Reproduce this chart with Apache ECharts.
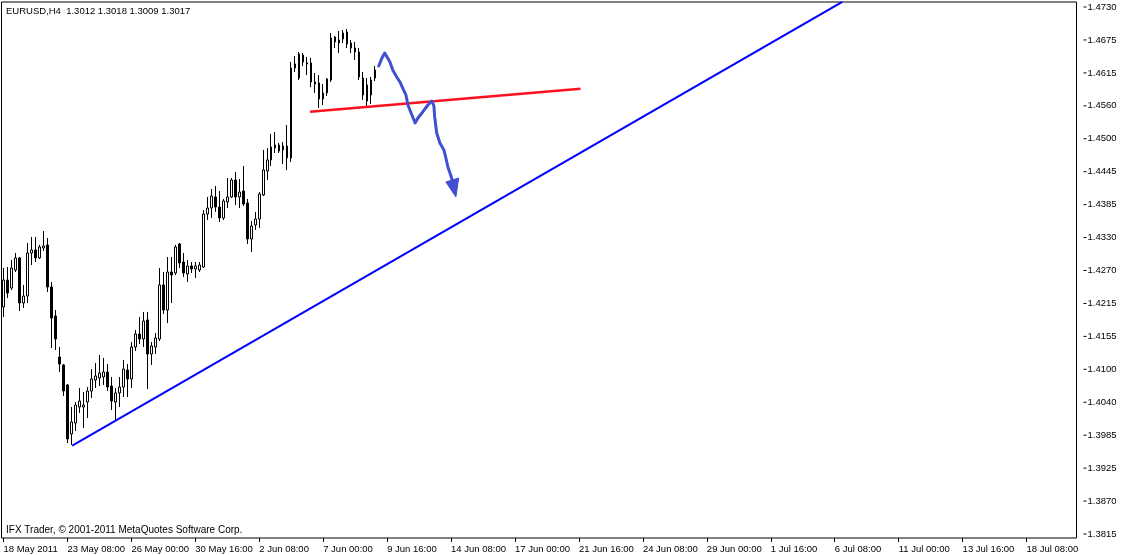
<!DOCTYPE html>
<html><head><meta charset="utf-8">
<script src="https://cdn.jsdelivr.net/npm/echarts@6/dist/echarts.min.js"></script>
<style>html,body{margin:0;padding:0;background:#fff}#c{width:1121px;height:555px}</style>
</head><body><div id="c"></div>
<script>
const symbolInfo = 'EURUSD,H4  1.3012 1.3018 1.3009 1.3017';
const footerText = 'IFX Trader, \u00a9 2001-2011 MetaQuotes Software Corp.';
const barCount = 269;
const labelEvery = 16;
const timeLabels = ['18 May 2011','23 May 08:00','26 May 00:00','30 May 16:00','2 Jun 08:00','7 Jun 00:00','9 Jun 16:00','14 Jun 08:00','17 Jun 00:00','21 Jun 16:00','24 Jun 08:00','29 Jun 00:00','1 Jul 16:00','6 Jul 08:00','11 Jul 00:00','13 Jul 16:00','18 Jul 08:00'];
const priceLabels = ['1.3815','1.3870','1.3925','1.3985','1.4040','1.4100','1.4155','1.4215','1.4270','1.4330','1.4385','1.4445','1.4500','1.4560','1.4615','1.4675','1.4730'];
const priceMin = 1.38077, priceMax = 1.47387;

const opens = [1.42089,1.42558,1.42419,1.42732,1.42941,1.42159,1.42280,1.43027,1.43080,1.42941,
1.43114,1.43166,1.42437,1.41933,1.41221,1.41082,1.40735,1.39883,1.40075,1.40352,
1.40352,1.40439,1.40630,1.40821,1.40856,1.40874,1.40960,1.40717,1.40439,1.40596,
1.40700,1.40995,1.40839,1.41395,1.41620,1.41534,1.41864,1.41273,1.41395,1.41534,
1.42472,1.42037,1.42697,1.42680,1.43184,1.42871,1.42663,1.42802,1.42749,1.42732,
1.42784,1.43705,1.43809,1.44000,1.43826,1.43635,1.43913,1.44000,1.44295,1.44000,
1.44104,1.43896,1.43271,1.43514,1.43618,1.44035,1.44452,1.44643,1.44851,1.44903,
1.44817,1.44886,1.44678,1.46241,1.46067,1.46467,1.46310,1.46328,1.45998,1.45980,
1.45702,1.45807,1.46032,1.46779,1.46675,1.46745,1.46866,1.46675,1.46588,1.46519,
1.46067,1.45946,1.45772,1.46067];
const closes = [1.42558,1.42333,1.42767,1.42941,1.42159,1.42280,1.43027,1.43080,1.42941,1.43132,
1.43149,1.42437,1.41898,1.41534,1.41099,1.40630,1.39797,1.40092,1.40387,1.40457,
1.40387,1.40630,1.40839,1.40891,1.40943,1.40960,1.40700,1.40457,1.40596,1.40700,
1.41012,1.40839,1.41395,1.41620,1.41534,1.41846,1.41273,1.41412,1.41551,1.42472,
1.42037,1.42697,1.42645,1.43132,1.42854,1.42680,1.42802,1.42749,1.42802,1.42819,
1.43705,1.43809,1.44017,1.43826,1.43635,1.43931,1.44000,1.44295,1.44000,1.44087,
1.43878,1.43271,1.43496,1.43618,1.44052,1.44469,1.44643,1.44869,1.44903,1.44799,
1.44886,1.44678,1.46241,1.46310,1.46484,1.46345,1.46328,1.45998,1.45963,1.45702,
1.45807,1.46050,1.46762,1.46693,1.46727,1.46849,1.46658,1.46588,1.46519,1.46085,
1.45772,1.45668,1.46032,1.46206];
const lows = [1.41916,1.42246,1.42385,1.42697,1.42020,1.42072,1.42159,1.42819,1.42871,1.42923,
1.43062,1.42350,1.41377,1.41342,1.40960,1.40544,1.39727,1.39692,1.39936,1.40248,
1.39988,1.40161,1.40509,1.40682,1.40717,1.40735,1.40630,1.40300,1.40127,1.40352,
1.40526,1.40526,1.40682,1.41325,1.41447,1.41395,1.40665,1.41082,1.41273,1.41499,
1.41968,1.41811,1.42159,1.42645,1.42767,1.42611,1.42524,1.42680,1.42593,1.42697,
1.42767,1.43601,1.43635,1.43740,1.43566,1.43601,1.43809,1.43983,1.43861,1.43809,
1.43844,1.43184,1.43045,1.43427,1.43462,1.44017,1.44295,1.44539,1.44764,1.44764,
1.44573,1.44469,1.44608,1.46171,1.46032,1.46276,1.46119,1.45911,1.45807,1.45546,
1.45598,1.45755,1.45998,1.46588,1.46501,1.46675,1.46588,1.46501,1.46380,1.46032,
1.45685,1.45563,1.45616,1.46015];
const highs = [1.42767,1.42784,1.42906,1.43027,1.42958,1.42472,1.43201,1.43305,1.43305,1.43166,
1.43410,1.43288,1.42524,1.42037,1.41395,1.41099,1.40752,1.40352,1.40439,1.40682,
1.40613,1.40700,1.41012,1.41117,1.41256,1.41204,1.41099,1.40874,1.40682,1.40874,
1.41169,1.41099,1.41481,1.41690,1.41916,1.42003,1.42003,1.41481,1.41638,1.42767,
1.42697,1.42958,1.42958,1.43166,1.43201,1.43027,1.42906,1.42871,1.42871,1.42871,
1.43774,1.44000,1.44139,1.44191,1.44104,1.43965,1.44330,1.44330,1.44434,1.44313,
1.44539,1.43965,1.43583,1.43740,1.44087,1.44817,1.44851,1.45094,1.45129,1.44938,
1.44956,1.45251,1.46345,1.46449,1.46519,1.46501,1.46432,1.46415,1.46154,1.46119,
1.45963,1.46067,1.46849,1.46797,1.46884,1.46901,1.46918,1.46727,1.46693,1.46588,
1.46171,1.46067,1.46085,1.46276];

// drawn objects: [bar position, price]
const trendLine = [[17.2,1.3968],[209.9,1.4739]];
const necklineLine = [[76.7,1.4548],[144.4,1.4588]];
const arrowPath = [[93.9,1.46276],[94.7,1.46415],[95.4,1.46501],[95.9,1.46467],[96.7,1.46345],[97.4,1.46206],[98.4,1.46085],[99.2,1.45998],[99.9,1.45893],[100.7,1.45772],[101.2,1.45598],[102.0,1.45459],[103.0,1.45286],[103.7,1.45372],[104.9,1.45477],[106.2,1.45598],[107.2,1.45668],[107.7,1.45581],[107.9,1.45390],[108.4,1.45112],[109.2,1.44938],[110.2,1.44817],[110.7,1.44678],[111.2,1.44521],[111.9,1.44382],[112.7,1.44191]];
const arrowHead = [[110.7,1.44261],[113.9,1.44330],[113.2,1.44000]];

const FONT = 'Liberation Sans, Arial, sans-serif';
const categories = Array.from({length: barCount}, (_, i) => String(i));
const candles = opens.map((o, i) => [o, closes[i], lows[i], highs[i]]);

const chart = echarts.init(document.getElementById('c'), null, {renderer: 'canvas'});
chart.setOption({
  animation: false,
  backgroundColor: '#fff',
  title: [
    {text: symbolInfo, left: 6, top: 6, padding: 0, textStyle: {fontSize: 9.5, fontWeight: 'normal', color: '#000', fontFamily: FONT}},
    {text: footerText, left: 6, top: 525, padding: 0, textStyle: {fontSize: 10, fontWeight: 'normal', color: '#000', fontFamily: FONT}}
  ],
  grid: [
    {left: 1.5, right: 44.5, top: 2, bottom: 17, show: true, borderColor: '#000', borderWidth: 1, backgroundColor: '#fff', containLabel: false},
    // price scale: first and last labels sit at 1.3815 / 1.4730
    {left: 1.5, right: 44.5, top: 7, bottom: 21, show: false, containLabel: false}
  ],
  xAxis: [
    {type: 'category', data: categories, boundaryGap: true, gridIndex: 0,
     axisLine: {show: false},
     axisTick: {show: true, alignWithLabel: true, interval: labelEvery - 1, length: 4, lineStyle: {color: '#000'}},
     axisLabel: {interval: labelEvery - 1, align: 'left', margin: 6, color: '#000', fontSize: 9.5, fontFamily: FONT,
       formatter: (v, idx) => (idx % labelEvery === 0 && timeLabels[idx / labelEvery]) ? timeLabels[idx / labelEvery] : ''},
     splitLine: {show: false}},
    {type: 'value', gridIndex: 0, min: -0.5, max: barCount - 0.5, show: false},
    {type: 'value', gridIndex: 1, min: 0, max: 1, show: false}
  ],
  yAxis: [
    {type: 'value', gridIndex: 0, position: 'right', min: priceMin, max: priceMax, scale: true,
     axisLine: {show: false}, axisTick: {show: false}, axisLabel: {show: false}, splitLine: {show: false}},
    {type: 'category', gridIndex: 1, position: 'right', data: priceLabels, boundaryGap: false,
     axisLine: {show: false},
     axisTick: {show: false},
     axisLabel: {interval: 0, margin: 7, color: '#000', fontSize: 9.5, fontFamily: FONT,
       formatter: v => '{tk|}{lb|' + v + '}',
       rich: {tk: {width: 3, height: 1, backgroundColor: '#000', verticalAlign: 'middle'},
              lb: {padding: [0, 0, 0, 1], color: '#000', fontSize: 9.5, fontFamily: FONT}}},
     splitLine: {show: false}}
  ],
  series: [
    {type: 'candlestick', xAxisIndex: 0, yAxisIndex: 0, data: candles, barWidth: 2, silent: true,
     itemStyle: {color: '#fff', color0: '#000', borderColor: '#000', borderColor0: '#000', borderColorDoji: '#000', borderWidth: 1}},
    {type: 'line', xAxisIndex: 1, yAxisIndex: 0, data: trendLine, symbol: 'none', silent: true,
     lineStyle: {color: '#0000ff', width: 2}},
    {type: 'line', xAxisIndex: 1, yAxisIndex: 0, data: necklineLine, symbol: 'none', silent: true,
     lineStyle: {color: '#ff1020', width: 2.5}},
    {type: 'line', xAxisIndex: 1, yAxisIndex: 0, data: arrowPath, symbol: 'none', silent: true,
     lineStyle: {color: '#4050d0', width: 3, join: 'round', cap: 'round'}},
    {type: 'custom', xAxisIndex: 1, yAxisIndex: 0, data: [arrowHead[0]], silent: true,
     renderItem: (params, api) => ({type: 'polygon', shape: {points: arrowHead.map(p => api.coord(p))}, style: {fill: '#4050d0', stroke: '#4050d0', lineWidth: 1}})},
    {type: 'line', xAxisIndex: 2, yAxisIndex: 1, data: [], silent: true}
  ]
});
</script></body></html>
